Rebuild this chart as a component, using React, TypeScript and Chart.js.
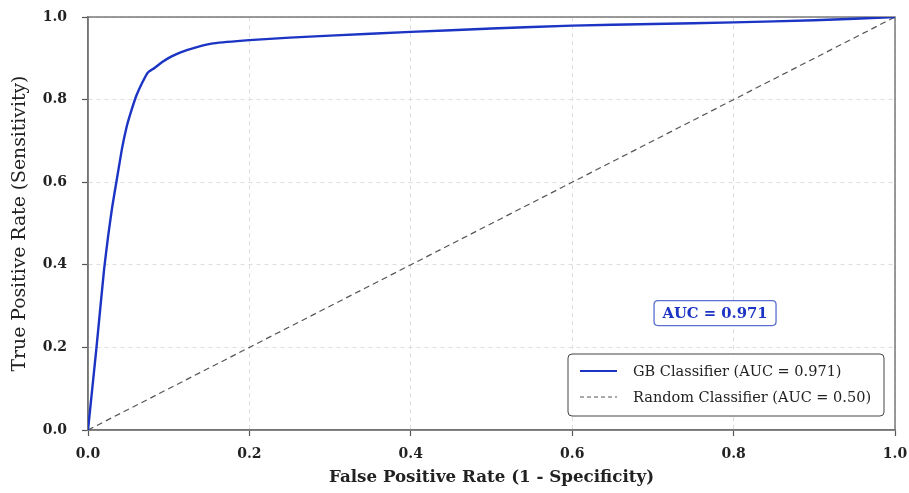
import React, { useEffect, useRef } from "react";
import { Chart, registerables } from "chart.js";

Chart.register(...registerables);

const rocFpr = [0, 0.005, 0.010, 0.015, 0.020, 0.025, 0.030, 0.036, 0.042, 0.048, 0.054, 0.060, 0.067, 0.074, 0.082, 0.092, 0.103, 0.114, 0.135, 0.155, 0.2, 0.25, 0.3, 0.4, 0.5, 0.6, 0.7, 0.8, 0.9, 1.0];
const rocTpr = [0, 0.095, 0.19, 0.29, 0.39, 0.47, 0.54, 0.61, 0.68, 0.735, 0.775, 0.81, 0.84, 0.865, 0.876, 0.891, 0.904, 0.914, 0.927, 0.936, 0.944, 0.950, 0.955, 0.964, 0.972, 0.979, 0.983, 0.987, 0.992, 1.0];
const diagX = [0, 1];
const diagY = [0, 1];
const seriesLabels = ["GB Classifier (AUC = 0.971)", "Random Classifier (AUC = 0.50)"];
const aucText = "AUC = 0.971";
const xTitle = "False Positive Rate (1 - Specificity)";
const yTitle = "True Positive Rate (Sensitivity)";

const FONT = "'DejaVu Serif', 'Liberation Serif', serif";
const BLUE = "#1b34c4";
const GRAY = "#555555";

const overlayPlugin = {
  id: "overlay",
  beforeDatasetsDraw(chart: any) {
    const { ctx, chartArea: a } = chart;
    ctx.save();
    ctx.strokeStyle = "#7a7a7a";
    ctx.lineWidth = 1.5;
    ctx.setLineDash([]);
    ctx.strokeRect(a.left, a.top, a.right - a.left, a.bottom - a.top);
    ctx.restore();
  },
  afterDraw(chart: any) {
    const { ctx, chartArea: a } = chart;
    const rr = (x: number, y: number, w: number, h: number, r: number) => {
      ctx.beginPath();
      ctx.moveTo(x + r, y);
      ctx.lineTo(x + w - r, y);
      ctx.quadraticCurveTo(x + w, y, x + w, y + r);
      ctx.lineTo(x + w, y + h - r);
      ctx.quadraticCurveTo(x + w, y + h, x + w - r, y + h);
      ctx.lineTo(x + r, y + h);
      ctx.quadraticCurveTo(x, y + h, x, y + h - r);
      ctx.lineTo(x, y + r);
      ctx.quadraticCurveTo(x, y, x + r, y);
      ctx.closePath();
    };
    ctx.save();
    // AUC box
    const cx = a.left + (a.right - a.left) * 0.777;
    const cy = a.bottom - (a.bottom - a.top) * 0.283;
    const bw = 122, bh = 25;
    rr(cx - bw / 2, cy - bh / 2, bw, bh, 4);
    ctx.fillStyle = "rgba(255,255,255,0.9)";
    ctx.fill();
    ctx.strokeStyle = "#5a6fd0";
    ctx.lineWidth = 1.3;
    ctx.stroke();
    ctx.fillStyle = BLUE;
    ctx.font = `bold 14.8px ${FONT}`;
    ctx.textAlign = "center";
    ctx.textBaseline = "middle";
    ctx.fillText(aucText, cx, cy + 1);

    // Legend box
    const lw = 316, lh = 62;
    const lx = a.right - 11 - lw;
    const ly = a.bottom - 14 - lh;
    rr(lx, ly, lw, lh, 4);
    ctx.fillStyle = "rgba(255,255,255,0.92)";
    ctx.fill();
    ctx.strokeStyle = "#444";
    ctx.lineWidth = 1;
    ctx.stroke();
    const rows = [ly + 17, ly + 43];
    ctx.font = `14.5px ${FONT}`;
    ctx.textAlign = "left";
    chart.data.datasets.forEach((ds: any, i: number) => {
      ctx.beginPath();
      ctx.strokeStyle = ds.borderColor;
      ctx.lineWidth = i === 0 ? 2.2 : 1.2;
      ctx.setLineDash(i === 0 ? [] : [4, 3]);
      ctx.moveTo(lx + 12, rows[i]);
      ctx.lineTo(lx + 49, rows[i]);
      ctx.stroke();
      ctx.setLineDash([]);
      ctx.fillStyle = "#222";
      ctx.fillText(ds.label, lx + 65, rows[i] + 1);
    });
    ctx.restore();
  },
};

export default function App() {
  const ref = useRef<HTMLCanvasElement | null>(null);
  useEffect(() => {
    document.body.style.margin = "0";
    if (!ref.current) return;
    const gridOpts: any = {
      color: "#dddddd",
      lineWidth: 1,
      tickLength: 6,
      tickColor: "#555",
      tickWidth: 1.2,
      tickBorderDash: [],
    };
    const chart = new Chart(ref.current, {
      type: "scatter",
      data: {
        datasets: [
          {
            label: seriesLabels[0],
            data: rocFpr.map((x, i) => ({ x, y: rocTpr[i] })),
            showLine: true,
            borderColor: BLUE,
            borderWidth: 2.4,
            pointRadius: 0,
            tension: 0.15,
          },
          {
            label: seriesLabels[1],
            data: diagX.map((x, i) => ({ x, y: diagY[i] })),
            showLine: true,
            borderColor: GRAY,
            borderWidth: 1.2,
            borderDash: [6, 4],
            pointRadius: 0,
          },
        ],
      },
      options: {
        animation: false,
        responsive: false,
        layout: { padding: { top: 17, right: 14, left: 0, bottom: 0 } },
        plugins: { legend: { display: false }, tooltip: { enabled: false } },
        scales: {
          x: {
            type: "linear",
            min: 0,
            max: 1,
            ticks: {
              stepSize: 0.2,
              callback: (v: any) => Number(v).toFixed(1),
              font: { family: FONT, size: 14, weight: "bold" },
              color: "#222",
              padding: 10,
              maxRotation: 0,
            },
            grid: gridOpts,
            border: { color: "#666", width: 1.5, dash: [4, 4] } as any,
            title: {
              display: true,
              text: xTitle,
              font: { family: FONT, size: 16.7, weight: "bold" },
              color: "#222",
              padding: { top: 0, bottom: 5 },
            },
            afterFit: (s: any) => {
              s.height = 63;
              s.paddingLeft = 0;
              s.paddingRight = 0;
            },
          },
          y: {
            type: "linear",
            min: 0,
            max: 1,
            ticks: {
              stepSize: 0.2,
              callback: (v: any) => Number(v).toFixed(1),
              font: { family: FONT, size: 14, weight: "bold" },
              color: "#222",
              padding: 15,
            },
            grid: gridOpts,
            border: { color: "#666", width: 1.5, dash: [4, 4] } as any,
            title: {
              display: true,
              text: yTitle,
              font: { family: FONT, size: 18.8 },
              color: "#222",
              padding: { top: 9, bottom: 0 },
            },
            afterFit: (s: any) => {
              s.width = 88;
              s.paddingTop = 0;
              s.paddingBottom = 0;
            },
          },
        },
      },
      plugins: [overlayPlugin],
    });
    return () => chart.destroy();
  }, []);
  return (
    <div style={{ width: 909, height: 493 }}>
      <canvas ref={ref} width={909} height={493} />
    </div>
  );
}
